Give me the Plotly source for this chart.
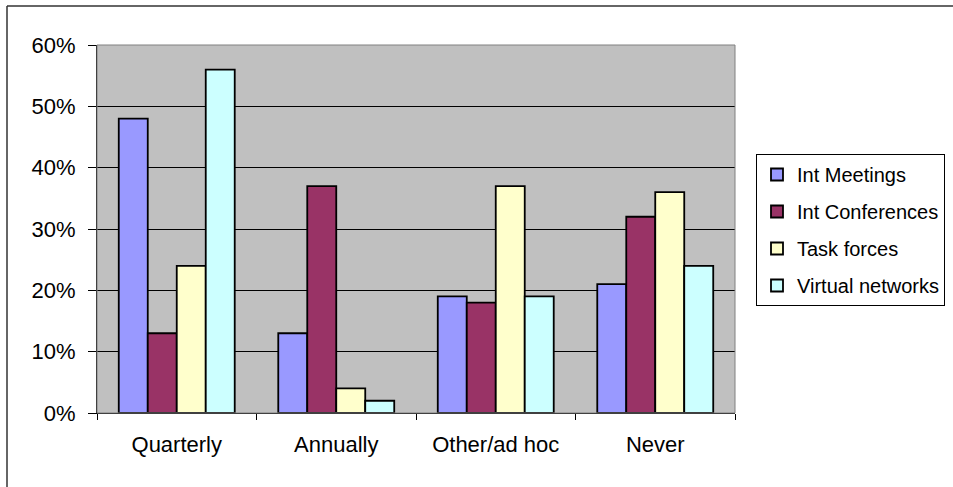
import plotly.graph_objects as go

categories = ["Quarterly", "Annually", "Other/ad hoc", "Never"]
series_names = ["Int Meetings", "Int Conferences", "Task forces", "Virtual networks"]
int_meetings = [0.48, 0.13, 0.19, 0.21]
int_conferences = [0.13, 0.37, 0.18, 0.32]
task_forces = [0.24, 0.04, 0.37, 0.36]
virtual_networks = [0.56, 0.02, 0.19, 0.24]
colors = ["#9999FF", "#993366", "#FFFFCC", "#CCFFFF"]

W, H = 953, 487
L, R, T, B = 97, 735, 45, 413

fx = lambda v: v / W
fy = lambda v: 1 - v / H

fig = go.Figure()
for i, (name, vals) in enumerate(zip(series_names,
                                     [int_meetings, int_conferences, task_forces, virtual_networks])):
    fig.add_trace(go.Bar(
        x=categories, y=vals, name=name,
        marker=dict(color=colors[i], line=dict(color="black", width=1.8)),
        legendgroup=f"g{i}",
    ))

font = dict(family="Liberation Sans, Arial, sans-serif", size=22, color="black")
legend_font = dict(family="Liberation Sans, Arial, sans-serif", size=20, color="black")

fig.update_layout(
    width=W, height=H,
    margin=dict(l=0, r=0, t=0, b=0, pad=0),
    paper_bgcolor="white",
    plot_bgcolor="#C0C0C0",
    font=font,
    barmode="group",
    bargap=0.273,
    bargroupgap=0,
    legend=dict(
        x=fx(756), y=fy(154),
        xanchor="left", yanchor="top",
        bordercolor="black", borderwidth=1,
        bgcolor="white",
        font=legend_font,
        traceorder="grouped",
        tracegroupgap=8,
        itemwidth=30,
    ),
    xaxis=dict(
        domain=[fx(L), fx(R)],
        showline=True, linecolor="black", linewidth=1,
        ticks="outside", tickson="boundaries", ticklen=6, tickcolor="black",
        ticklabelstandoff=12,
        showgrid=False,
        tickfont=font,
        automargin=False,
    ),
    yaxis=dict(
        domain=[fy(B), fy(T)],
        range=[0, 0.6], dtick=0.1, tickformat=".0%",
        showline=True, linecolor="black", linewidth=1,
        ticks="outside", ticklen=8, tickcolor="black",
        ticklabelstandoff=8,
        showgrid=True, gridcolor="black", gridwidth=1,
        zeroline=False,
        tickfont=font,
        automargin=False,
    ),
    showlegend=True,
)

# plot area border (gray)
fig.add_shape(type="rect", xref="paper", yref="paper",
              x0=fx(L), x1=fx(R), y0=fy(B), y1=fy(T),
              line=dict(color="#808080", width=1), layer="above")
# outer chart border (left and top edges visible)
fig.add_shape(type="line", xref="paper", yref="paper",
              x0=fx(7), x1=fx(960), y0=fy(6), y1=fy(6),
              line=dict(color="#333333", width=1.5))
fig.add_shape(type="line", xref="paper", yref="paper",
              x0=fx(7), x1=fx(7), y0=fy(6), y1=fy(495),
              line=dict(color="#333333", width=1.5))

fig.write_html(
    "out.html",
    config={"displayModeBar": False},
    post_script="document.body.style.margin='0';document.body.style.overflow='hidden';",
)
